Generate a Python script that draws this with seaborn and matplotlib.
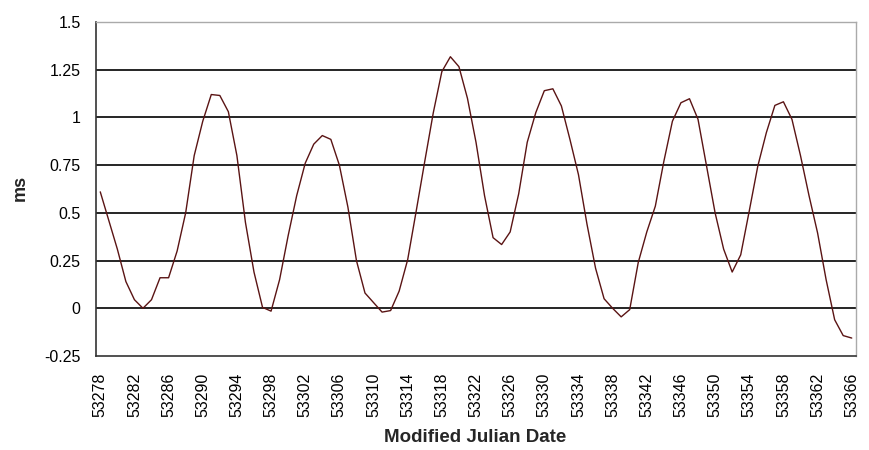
import numpy as np
import pandas as pd
import matplotlib.pyplot as plt
import seaborn as sns

# daily values, MJD 53278 .. 53366
mjd = list(range(53278, 53367))
ms = [
    0.61, 0.46, 0.31, 0.14, 0.045, 0.0, 0.045, 0.16, 0.16, 0.30,
    0.50, 0.80, 0.98, 1.12, 1.115, 1.03, 0.80, 0.45, 0.19, 0.005,
    -0.015, 0.15, 0.38, 0.59, 0.76, 0.86, 0.905, 0.885, 0.75, 0.53,
    0.25, 0.08, 0.03, -0.02, -0.012, 0.09, 0.255, 0.51, 0.77, 1.025,
    1.24, 1.318, 1.266, 1.10, 0.87, 0.59, 0.37, 0.334, 0.40, 0.60,
    0.87, 1.025, 1.14, 1.15, 1.06, 0.885, 0.70, 0.44, 0.21, 0.05,
    0.0, -0.045, -0.007, 0.24, 0.40, 0.535, 0.77, 0.98, 1.077, 1.098,
    0.99, 0.745, 0.50, 0.31, 0.19, 0.28, 0.51, 0.745, 0.92, 1.063,
    1.082, 0.99, 0.80, 0.59, 0.395, 0.15, -0.06, -0.143, -0.156,
]
y_ticks = [-0.25, 0, 0.25, 0.5, 0.75, 1, 1.25, 1.5]
y_labels = ["-0.25", "0", "0.25", "0.5", "0.75", "1", "1.25", "1.5"]

df = pd.DataFrame({"mjd": mjd, "ms": ms})

sns.set_style("white")
plt.rcParams["font.family"] = ["Liberation Sans", "DejaVu Sans"]

fig = plt.figure(figsize=(8.69, 4.5), dpi=100)
ax = fig.add_axes([96 / 869, 1 - 356 / 450, 760 / 869, 334 / 450])

sns.lineplot(data=df, x="mjd", y="ms", ax=ax, color="#5a1414", linewidth=1.0)

# category axis: points sit in the middle of each day slot
ax.set_xlim(mjd[0] - 0.5, mjd[-1] + 0.5)
ax.set_ylim(-0.25, 1.5)
ax.set_yticks(y_ticks)
ax.set_yticklabels(y_labels)
for v in y_ticks[1:-1]:
    ax.axhline(v, color="black", linewidth=1.2, zorder=0)

ax.set_xticks(mjd[::4])
ax.set_xticklabels([str(m) for m in mjd[::4]], rotation=90)
ax.set_xticks([m - 0.5 for m in mjd] + [mjd[-1] + 0.5], minor=True)

ax.tick_params(axis="both", labelsize=11.5, colors="black")
ax.tick_params(axis="x", which="major", length=0, pad=12)
ax.tick_params(axis="x", which="minor", direction="out", length=3, width=1, color="#333333")
ax.tick_params(axis="y", direction="out", length=4, width=1, pad=7, color="#333333")

for side in ["left", "bottom"]:
    ax.spines[side].set_color("#333333")
    ax.spines[side].set_linewidth(1.2)
for side in ["top", "right"]:
    ax.spines[side].set_visible(True)
    ax.spines[side].set_color("#aaaaaa")
    ax.spines[side].set_linewidth(1.0)

ax.set_xlabel("Modified Julian Date", fontsize=13.5, fontweight="bold")
ax.set_ylabel("ms", fontsize=13, fontweight="bold")
ax.xaxis.set_label_coords(0.499, -0.219)
ax.yaxis.set_label_coords(-0.089, 0.503)

fig.savefig("out.png", dpi=100)
